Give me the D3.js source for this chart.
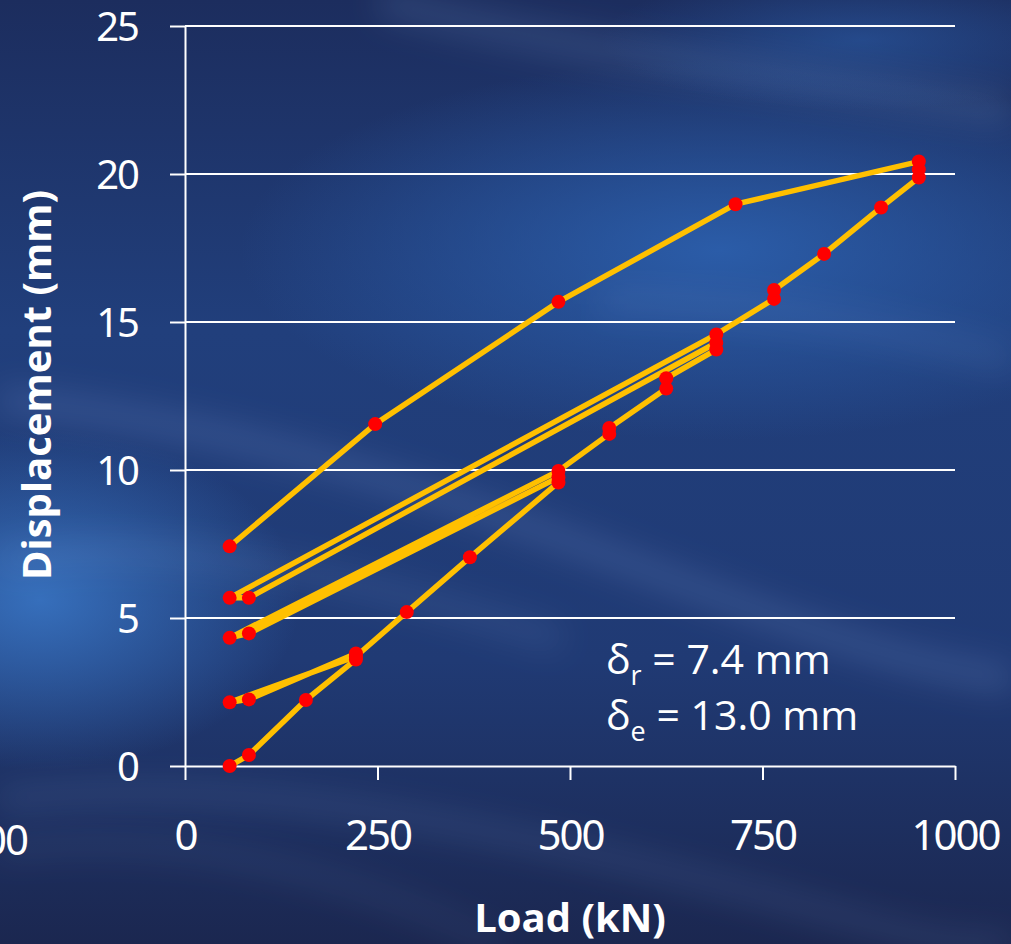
<!DOCTYPE html>
<html>
<head>
<meta charset="utf-8">
<script src="https://cdn.jsdelivr.net/npm/d3@7"></script>
<style>
  html, body { margin: 0; padding: 0; background: #1d2d5c; }
  svg { display: block; }
  .tick text { fill: #fff; }
</style>
</head>
<body>
<div id="chart"></div>
<script>
// load-displacement readings, in test order (load cycles back to ~58 kN three times)
const loadKN = [58, 83, 157, 222, 222, 83, 58, 222, 288, 370, 485, 485, 83, 58, 485,
    551, 551, 625, 625, 690, 690, 83, 58, 690, 765, 765, 830, 904, 953, 953, 953,
    715, 485, 247, 58];
const dispMM = [0, 0.37, 2.23, 3.6, 3.8, 2.25, 2.15, 3.7, 5.2, 7.05, 9.58, 9.75, 4.48, 4.33, 9.97,
    11.22, 11.42, 12.75, 13.1, 14.07, 14.3, 5.68, 5.68, 14.58, 15.78, 16.08, 17.3, 18.87, 19.88, 20.15, 20.42,
    18.98, 15.68, 11.55, 7.42];

const xTicks = [0, 250, 500, 750, 1000];
const yTicks = [0, 5, 10, 15, 20, 25];

const notes = [
    { sym: "δ", sub: "r", text: " = 7.4 mm" },
    { sym: "δ", sub: "e", text: " = 13.0 mm" }
];

const W = 1011, H = 944;
const margin = { top: 26, right: 56, bottom: 178, left: 185 };
const width = W - margin.left - margin.right;
const height = H - margin.top - margin.bottom;

const svg = d3.select("#chart").append("svg")
    .attr("width", W)
    .attr("height", H);

// ---- background: dark blue with soft light streaks
const defs = svg.append("defs");
const bg = defs.append("linearGradient").attr("id", "bg")
    .attr("x1", 0).attr("y1", 0).attr("x2", 0).attr("y2", 1);
bg.append("stop").attr("offset", 0).attr("stop-color", "#1c2d5e");
bg.append("stop").attr("offset", 0.35).attr("stop-color", "#213f7c");
bg.append("stop").attr("offset", 0.7).attr("stop-color", "#203a74");
bg.append("stop").attr("offset", 1).attr("stop-color", "#1b2750");

const glow = defs.append("radialGradient").attr("id", "glow");
glow.append("stop").attr("offset", 0).attr("stop-color", "#2c60ae").attr("stop-opacity", 0.9);
glow.append("stop").attr("offset", 1).attr("stop-color", "#2c60ae").attr("stop-opacity", 0);

const glowLeft = defs.append("radialGradient").attr("id", "glowLeft");
glowLeft.append("stop").attr("offset", 0).attr("stop-color", "#3a78c8").attr("stop-opacity", 0.85);
glowLeft.append("stop").attr("offset", 1).attr("stop-color", "#3a78c8").attr("stop-opacity", 0);

defs.append("filter").attr("id", "blurBig")
    .attr("x", "-20%").attr("y", "-50%").attr("width", "140%").attr("height", "200%")
    .append("feGaussianBlur").attr("stdDeviation", 16);

const back = svg.append("g").attr("class", "background");
back.append("rect").attr("width", W).attr("height", H).attr("fill", "url(#bg)");
back.append("ellipse").attr("cx", 720).attr("cy", 250).attr("rx", 480).attr("ry", 190)
    .attr("fill", "url(#glow)");
back.append("ellipse").attr("cx", 40).attr("cy", 600).attr("rx", 260).attr("ry", 170)
    .attr("fill", "url(#glowLeft)");
back.append("ellipse").attr("cx", 860).attr("cy", 40).attr("rx", 260).attr("ry", 70)
    .attr("fill", "url(#glow)").attr("opacity", 0.6);

// light streaks
const streaks = [
    { d: "M0,400 C200,420 380,470 620,560 S900,660 1011,680", w: 26, o: 0.18 },
    { d: "M380,0 C520,40 720,70 1011,110", w: 30, o: 0.16 },
    { d: "M0,560 C160,540 300,560 560,640", w: 20, o: 0.15 },
    { d: "M0,800 C180,780 360,800 620,860 S900,944 1011,944", w: 14, o: 0.2 },
    { d: "M0,850 C150,830 320,860 500,944", w: 10, o: 0.18 },
    { d: "M600,300 C760,300 900,330 1011,360", w: 22, o: 0.12 }
];
back.selectAll("path.streak").data(streaks).enter().append("path")
    .attr("class", "streak")
    .attr("d", d => d.d)
    .attr("fill", "none")
    .attr("stroke", "#8fb4ee")
    .attr("stroke-width", d => d.w)
    .attr("stroke-opacity", d => d.o)
    .attr("filter", "url(#blurBig)");

// stray label of the neighbouring chart, cut by the left edge
svg.append("text")
    .attr("x", 27).attr("y", 855)
    .attr("text-anchor", "end")
    .attr("fill", "#fff")
    .style("font-family", "'Noto Sans', 'Open Sans', sans-serif")
    .style("font-size", "42px")
    .style("letter-spacing", "-2px")
    .text("00");

const g = svg.append("g")
    .attr("transform", `translate(${margin.left},${margin.top})`);

const x = d3.scaleLinear().domain([0, 1000]).range([0, width]);
const y = d3.scaleLinear().domain([0, 25]).range([height, 0]);

// gridlines
g.append("g").attr("class", "grid")
    .selectAll("line").data(yTicks.filter(d => d > 0)).enter().append("line")
    .attr("x1", 0).attr("x2", width)
    .attr("y1", d => y(d)).attr("y2", d => y(d))
    .attr("stroke", "#fff")
    .attr("stroke-width", 2);

// axes
const xAxis = g.append("g")
    .attr("transform", `translate(0,${height})`)
    .call(d3.axisBottom(x).tickValues(xTicks).tickFormat(d3.format("d"))
        .tickSize(14).tickSizeOuter(0).tickPadding(40));
const yAxis = g.append("g")
    .call(d3.axisLeft(y).tickValues(yTicks).tickFormat(d3.format("d"))
        .tickSize(15).tickSizeOuter(0).tickPadding(32));

[xAxis, yAxis].forEach(ax => {
    ax.select(".domain").attr("stroke", "#fff").attr("stroke-width", 2);
    ax.selectAll(".tick line").attr("stroke", "#fff").attr("stroke-width", 2);
    ax.selectAll(".tick text")
        .style("font-family", "'Noto Sans', 'Open Sans', sans-serif")
        .style("font-size", "42px")
        .style("letter-spacing", "-2px");
});
yAxis.selectAll(".tick text").style("font-size", "40px").attr("dy", "0.36em");

// axis titles
svg.append("text")
    .attr("x", 570).attr("y", 932)
    .attr("text-anchor", "middle")
    .attr("fill", "#fff")
    .style("font-family", "'Open Sans', sans-serif")
    .style("font-weight", "bold")
    .style("font-size", "40px")
    .text("Load (kN)");

svg.append("text")
    .attr("transform", "translate(51,385) rotate(-90)")
    .attr("text-anchor", "middle")
    .attr("fill", "#fff")
    .style("font-family", "'Open Sans', sans-serif")
    .style("font-weight", "bold")
    .style("font-size", "40px")
    .text("Displacement (mm)");

// curve
const pts = loadKN.map((l, i) => ({ load: l, disp: dispMM[i] }));
const line = d3.line().x(d => x(d.load)).y(d => y(d.disp));

g.append("path")
    .datum(pts)
    .attr("d", line)
    .attr("fill", "none")
    .attr("stroke", "#ffc000")
    .attr("stroke-width", 5.5)
    .attr("stroke-linejoin", "round");

g.selectAll(".dot").data(pts).enter().append("circle")
    .attr("class", "dot")
    .attr("cx", d => x(d.load))
    .attr("cy", d => y(d.disp))
    .attr("r", 7)
    .attr("fill", "#ff0000");

// annotation
const note = svg.append("g")
    .attr("fill", "#fff")
    .style("font-family", "'Open Sans', sans-serif");
notes.forEach((n, i) => {
    const t = note.append("text")
        .attr("x", 606)
        .attr("y", 674 + i * 56)
        .style("font-size", "41px");
    t.append("tspan").text(n.sym);
    t.append("tspan").attr("dy", 11).style("font-size", "27px").text(n.sub);
    t.append("tspan").attr("dy", -11).text(n.text);
});
</script>
</body>
</html>
